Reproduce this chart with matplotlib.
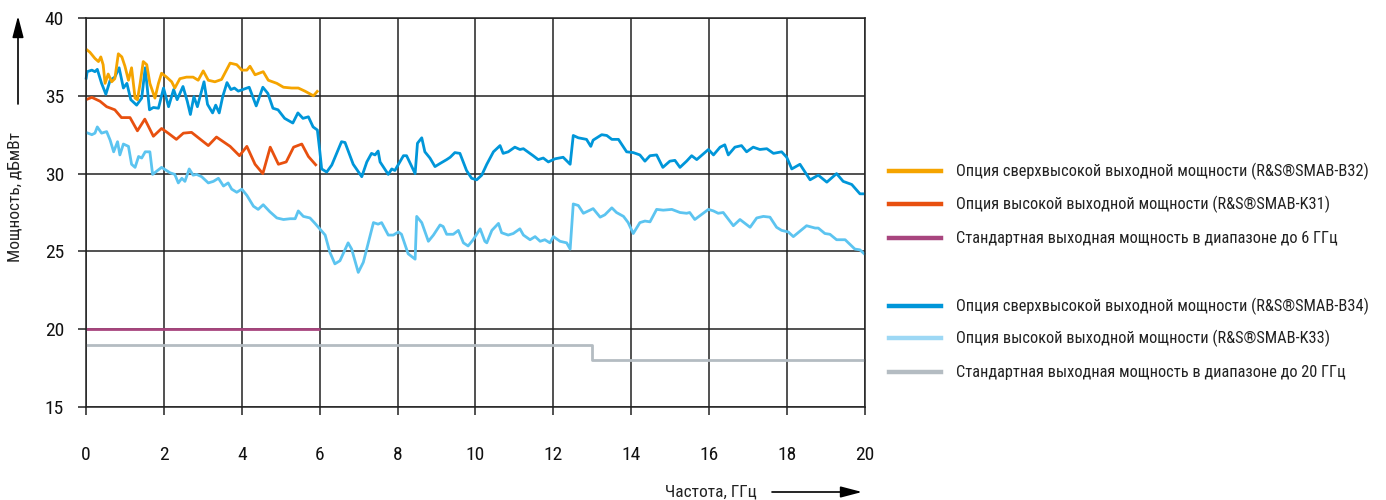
import matplotlib
matplotlib.use("Agg")
import matplotlib.pyplot as plt
from matplotlib import font_manager as fm
from matplotlib.lines import Line2D

# ---------------- font choice (condensed sans with Cyrillic) ----------------
_names = {f.name for f in fm.fontManager.ttflist}
FONT_STRETCH = 'normal'
for cand in ['Roboto Condensed', 'PT Sans Narrow', 'Archivo Narrow', 'Liberation Sans Narrow',
             'Open Sans Condensed']:
    if cand in _names:
        FONT = cand
        break
else:
    FONT = 'Open Sans'
    FONT_STRETCH = 'condensed'
plt.rcParams['font.family'] = [FONT, 'DejaVu Sans']
plt.rcParams['font.stretch'] = FONT_STRETCH

# ---------------- data ----------------
x_ticks = [0, 2, 4, 6, 8, 10, 12, 14, 16, 18, 20]
y_ticks = [15, 20, 25, 30, 35, 40]

labels = [
    "Опция сверхвысокой выходной мощности (R&S®SMAB-B32)",
    "Опция высокой выходной мощности (R&S®SMAB-K31)",
    "Стандартная выходная мощность в диапазоне до 6 ГГц",
    "Опция сверхвысокой выходной мощности (R&S®SMAB-B34)",
    "Опция высокой выходной мощности (R&S®SMAB-K33)",
    "Стандартная выходная мощность в диапазоне до 20 ГГц",
]

b32_f = [0, 0.10, 0.23, 0.32, 0.38, 0.44, 0.49, 0.57, 0.66, 0.74, 0.83, 0.92, 1.0, 1.09, 1.17,
         1.26, 1.32, 1.39, 1.47, 1.56, 1.64, 1.77, 1.86, 1.94, 2.07, 2.2, 2.28, 2.41, 2.58, 2.75,
         2.88, 3.01, 3.14, 3.31, 3.48, 3.70, 3.87, 4.0, 4.13, 4.21, 4.34, 4.55, 4.68, 4.90, 5.07,
         5.28, 5.45, 5.62, 5.84, 5.96]
b32_v = [38.0, 37.8, 37.4, 37.2, 37.5, 37.0, 35.8, 36.4, 35.9, 36.1, 37.7, 37.5, 36.9, 36.0, 36.8,
         34.85, 34.75, 35.8, 37.2, 37.0, 35.8, 34.85, 35.8, 36.45, 36.2, 35.9, 35.5, 36.1, 36.2, 36.2,
         36.0, 36.6, 36.0, 35.9, 36.05, 37.1, 37.0, 36.65, 36.65, 36.9, 36.35, 36.55, 36.0, 35.8, 35.55,
         35.5, 35.5, 35.3, 35.0, 35.35]

k31_f = [0, 0.15, 0.36, 0.53, 0.74, 0.91, 1.13, 1.32, 1.51, 1.73, 1.94, 2.11, 2.32, 2.50, 2.71,
         3.14, 3.35, 3.70, 3.94, 4.13, 4.34, 4.54, 4.73, 4.94, 5.14, 5.33, 5.54, 5.71, 5.92]
k31_v = [34.75, 34.9, 34.65, 34.3, 34.1, 33.6, 33.6, 32.75, 33.5, 32.4, 32.9, 32.6, 32.2, 32.6, 32.65,
         31.8, 32.35, 31.75, 31.15, 31.75, 30.6, 30.0, 31.7, 30.6, 30.75, 31.7, 31.9, 31.1, 30.5]

std6_f = [0, 6]
std6_v = [20, 20]

b34_f = [0, 0.03, 0.15, 0.23, 0.29, 0.4, 0.51, 0.62, 0.74, 0.85, 0.96, 1.05, 1.15, 1.30, 1.43,
         1.52, 1.63, 1.73, 1.86, 1.99, 2.12, 2.25, 2.34, 2.49, 2.6, 2.68, 2.77, 2.86, 2.94, 3.03,
         3.12, 3.25, 3.33, 3.42, 3.51, 3.62, 3.72, 3.81, 3.91, 4.02, 4.19, 4.37, 4.54, 4.67, 4.80,
         4.93, 5.10, 5.31, 5.44, 5.57, 5.71, 5.83, 5.94, 6.0, 6.05, 6.18,
         6.31, 6.56, 6.65, 6.86, 7.08, 7.21, 7.33, 7.42, 7.5, 7.55, 7.76, 7.85, 7.93, 8.15, 8.23,
         8.45, 8.51, 8.62, 8.7, 8.83, 8.96, 9.09, 9.26, 9.35, 9.47, 9.6, 9.77, 9.9, 10.03, 10.16,
         10.29, 10.46, 10.63, 10.71, 10.84, 11.01, 11.14, 11.23, 11.48, 11.61, 11.74, 11.87, 12.04,
         12.25, 12.43, 12.51, 12.64, 12.85, 12.96,
         13.02, 13.24, 13.37, 13.5, 13.67, 13.88, 14.05, 14.22, 14.35, 14.48, 14.65, 14.81, 14.99,
         15.12, 15.25, 15.42, 15.55, 15.68, 15.98, 16.11, 16.28, 16.4, 16.49, 16.66, 16.83, 16.96,
         17.13, 17.3, 17.48, 17.65, 17.86, 17.99, 18.12, 18.33, 18.59, 18.8, 19.02, 19.27, 19.44,
         19.66, 19.87, 20.0]
b34_v = [36.05, 36.55, 36.65, 36.55, 36.7, 35.8, 35.1, 36.0, 36.2, 36.8, 35.5, 35.8, 34.75, 34.4, 34.85,
         36.8, 34.1, 34.25, 34.2, 35.5, 34.3, 35.4, 34.75, 35.6, 34.65, 33.8, 34.95, 34.3, 35.05, 35.9,
         34.45, 33.9, 34.4, 33.9, 34.95, 35.85, 35.4, 35.5, 35.3, 35.4, 35.55, 34.35, 35.55, 35.15, 34.2,
         34.1, 33.55, 33.25, 33.9, 33.55, 33.65, 33.0, 32.8, 31.5, 30.3, 30.1,
         30.55, 32.05, 32.0, 30.6, 29.8, 30.75, 31.3, 31.2, 31.45, 30.75, 29.95, 30.3, 30.2, 31.15, 31.15,
         30.0, 31.95, 32.3, 31.4, 31.0, 30.45, 30.65, 30.9, 31.05, 31.35, 31.3, 30.2, 29.7, 29.6, 29.9,
         30.6, 31.4, 31.8, 31.3, 31.4, 31.7, 31.55, 31.6, 31.15, 30.9, 31.0, 30.75, 30.95,
         31.05, 30.6, 32.45, 32.3, 32.2, 31.75,
         32.15, 32.5, 32.45, 32.2, 32.2, 31.4, 31.35, 31.2, 30.8, 31.15, 31.2, 30.4, 30.8,
         30.85, 30.4, 30.8, 31.15, 30.9, 31.55, 31.2, 31.7, 31.85, 31.2, 31.7, 31.8, 31.4,
         31.7, 31.55, 31.6, 31.3, 31.4, 31.05, 30.3, 30.6, 29.6, 29.9, 29.45, 30.0, 29.5,
         29.3, 28.7, 28.7]

k33_f = [0, 0.15, 0.23, 0.29, 0.4, 0.53, 0.62, 0.71, 0.81, 0.87, 0.96, 1.09, 1.17, 1.26, 1.35, 1.43,
         1.52, 1.64,
         1.71, 1.94, 2.16, 2.28, 2.37, 2.46, 2.54, 2.65, 2.75, 2.84, 2.97, 3.14, 3.27, 3.4, 3.53, 3.65,
         3.74, 3.87, 4.0, 4.13, 4.3, 4.42, 4.55, 4.72, 4.9, 5.07, 5.24, 5.37, 5.45, 5.58, 5.75, 5.88,
         6.0, 6.14,
         6.26, 6.39, 6.52, 6.73, 6.82, 6.99, 7.12, 7.38, 7.5, 7.59, 7.76, 7.89, 8.02, 8.1, 8.27, 8.45,
         8.49, 8.62, 8.79, 8.92, 9.09, 9.17, 9.26, 9.43, 9.56, 9.69, 9.81, 9.94, 10.12, 10.24, 10.29,
         10.42, 10.59, 10.67, 10.84, 10.97, 11.14, 11.23, 11.4, 11.53, 11.66, 11.78, 11.91, 12.0, 12.17,
         12.34, 12.43, 12.51, 12.64, 12.77, 13.02,
         13.2, 13.32, 13.5, 13.62, 13.8, 13.92, 14.05, 14.22, 14.35, 14.48, 14.65, 14.82, 15.04, 15.25,
         15.42, 15.5, 15.63, 15.98, 16.11, 16.23, 16.36, 16.62, 16.79, 17.05, 17.22, 17.39, 17.56, 17.73,
         17.86, 18.03, 18.16, 18.5, 18.72, 18.8, 18.97, 19.1, 19.27, 19.49, 19.74, 19.87, 20.0]
k33_v = [32.65, 32.5, 32.6, 33.0, 32.6, 32.7, 32.15, 31.4, 32.05, 31.2, 31.9, 31.75, 30.6, 30.4, 31.1, 31.0,
         31.4, 31.4,
         29.95, 30.4, 30.05, 29.95, 29.4, 29.7, 29.5, 30.3, 29.9, 29.95, 29.8, 29.4, 29.5, 29.7, 29.2, 29.4,
         29.0, 28.8, 29.0, 28.6, 27.9, 27.7, 28.0, 27.55, 27.15, 27.05, 27.1, 27.1, 27.6, 27.25, 27.15, 26.8,
         26.45, 26.05,
         24.95, 24.2, 24.4, 25.55, 25.15, 23.65, 24.3, 26.85, 26.75, 26.85, 26.05, 26.05, 26.25, 26.1, 24.85, 24.5,
         27.25, 26.85, 25.65, 26.05, 26.7, 26.6, 26.1, 26.1, 26.35, 25.55, 25.35, 25.75, 26.45, 25.65, 25.55,
         26.35, 26.8, 26.2, 26.05, 26.15, 26.45, 26.05, 25.75, 25.95, 25.65, 25.75, 25.55, 25.95, 25.65,
         25.55, 25.15, 28.05, 27.95, 27.45, 27.75,
         27.2, 27.35, 27.8, 27.5, 27.25, 26.85, 26.15, 26.85, 26.95, 26.9, 27.7, 27.65, 27.7, 27.5,
         27.45, 27.5, 27.05, 27.7, 27.6, 27.45, 27.5, 26.65, 27.05, 26.55, 27.15, 27.25, 27.2, 26.55,
         26.35, 26.25, 25.95, 26.65, 26.5, 26.5, 26.15, 26.1, 25.75, 25.75, 25.15, 25.1, 24.8]

std20_f = [0, 13, 13, 20]
std20_v = [19, 19, 18, 18]

colors = ['#F5A400', '#E8500F', '#A8457E', '#0096D9', '#5CC4F0', '#B4BCC2']
legend_colors = ['#F5A400', '#E8500F', '#A8457E', '#0096D9', '#9DD8F5', '#B4BCC2']

# ---------------- figure ----------------
W, H = 1386, 500
fig = plt.figure(figsize=(W / 100, H / 100), dpi=100)
ax = fig.add_axes([86 / W, 1 - 407 / H, (865 - 86) / W, (407 - 18) / H])

ax.set_xlim(0, 20)
ax.set_ylim(15, 40)
ax.set_xticks(x_ticks)
ax.set_yticks(y_ticks)
ax.grid(True, color='#222222', lw=1.1)
ax.set_axisbelow(True)
for sp in ax.spines.values():
    sp.set_color('#222222')
    sp.set_linewidth(1.1)
ax.tick_params(axis='both', direction='out', length=5.8, width=1.1, color='#222222',
               labelsize=14, labelcolor='#111111')
ax.tick_params(axis='x', pad=22)
ax.tick_params(axis='y', pad=10)

lw = 2.0
series = [(std20_f, std20_v, colors[5]), (std6_f, std6_v, colors[2]),
          (k33_f, k33_v, colors[4]), (b34_f, b34_v, colors[3]),
          (k31_f, k31_v, colors[1]), (b32_f, b32_v, colors[0])]
for f, v, c in series:
    ax.plot(f, v, color=c, lw=lw, solid_joinstyle='round', solid_capstyle='butt', clip_on=False)

# legend (manual)
rows_y = [171, 204, 238, 306, 338, 372]
for yy, lab, c in zip(rows_y, labels, legend_colors):
    fig.add_artist(Line2D([889 / W, 941 / W], [1 - yy / H, 1 - yy / H], color=c, lw=3.2,
                          transform=fig.transFigure))
    fig.text(956 / W, 1 - yy / H, lab, ha='left', va='center', fontsize=11.8, color='#222222')

# axis labels with arrows
fig.text(15 / W, 1 - 197 / H, 'Мощность, дБмВт', rotation=90, ha='center', va='center',
         fontsize=12.5, color='#222222')
fig.text(757 / W, 1 - 492 / H, 'Частота, ГГц', ha='right', va='center',
         fontsize=12.5, color='#222222')
arrow_style = dict(arrowstyle='-|>,head_length=0.65,head_width=0.17', color='black', lw=1.2,
                   mutation_scale=20, shrinkA=0, shrinkB=0)
ax.annotate('', xy=(18 / W, 1 - 16 / H), xytext=(18 / W, 1 - 104 / H), xycoords='figure fraction',
            textcoords='figure fraction', arrowprops=arrow_style, annotation_clip=False)
ax.annotate('', xy=(862 / W, 1 - 492 / H), xytext=(772 / W, 1 - 492 / H), xycoords='figure fraction',
            textcoords='figure fraction', arrowprops=arrow_style, annotation_clip=False)

fig.savefig('out.png', dpi=100)
